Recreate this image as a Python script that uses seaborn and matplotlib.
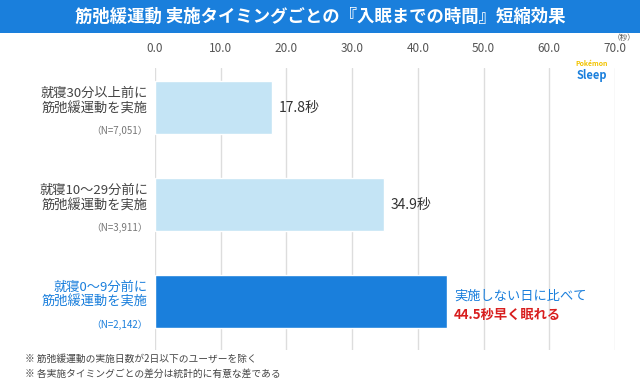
import pandas as pd
import seaborn as sns
import matplotlib.pyplot as plt
from matplotlib.transforms import blended_transform_factory

# data
categories = ["30+", "10-29", "0-9"]
label_lines = [
    ["就寝30分以上前に", "筋弛緩運動を実施"],
    ["就寝10～29分前に", "筋弛緩運動を実施"],
    ["就寝0～9分前に", "筋弛緩運動を実施"],
]
sample_sizes = ["（N=7,051）", "（N=3,911）", "（N=2,142）"]
seconds = [17.8, 34.9, 44.5]
x_ticks = [0, 10, 20, 30, 40, 50, 60, 70]

BLUE = "#1a7fdc"
LIGHT = "#c4e4f5"
RED = "#d81e1e"

sns.set_theme(style="white")
plt.rcParams['font.family'] = ['Noto Sans CJK JP', 'DejaVu Sans']

df = pd.DataFrame({"cat": categories, "sec": seconds})

fig = plt.figure(figsize=(6.4, 3.91), dpi=100)
fig.patch.set_facecolor("white")

# header band
fig.patches.append(plt.Rectangle((0, 1 - 33 / 391), 1, 33 / 391, transform=fig.transFigure,
                                 facecolor=BLUE, edgecolor="none", zorder=0))
fig.text(0.5, 1 - 17 / 391, "筋弛緩運動 実施タイミングごとの『入眠までの時間』短縮効果",
         ha="center", va="center", color="white", fontsize=12.5, fontweight="bold")

ax = fig.add_axes([155 / 640, 1 - 350 / 391, 460 / 640, 282 / 391])
sns.barplot(data=df, x="sec", y="cat", hue="cat", palette=[LIGHT, LIGHT, BLUE],
            orient="h", width=0.55, saturation=1, legend=False, ax=ax, zorder=3)

ax.set_xlim(0, 70)
ax.set_ylim(2.5, -0.41)
ax.set_xticks(x_ticks)
ax.set_xticklabels([f"{t:.1f}" for t in x_ticks], color="#555555", fontsize=8.5)
ax.xaxis.tick_top()
ax.tick_params(axis="x", length=0, pad=9)
ax.set_yticks([])
ax.set_xlabel("")
ax.set_ylabel("")
for s in ax.spines.values():
    s.set_visible(False)
ax.grid(axis="x", color="#dddddd", linewidth=1, zorder=0)
ax.set_axisbelow(True)

fig.text(624 / 640, 1 - 38 / 391, "（秒）", fontsize=5.5, color="#555555",
         ha="center", va="center")

# category labels
tr = blended_transform_factory(fig.transFigure, ax.transData)
for i, lines in enumerate(label_lines):
    col = BLUE if i == 2 else "#444444"
    ax.text(148 / 640, i - 0.07, lines[0] + "\n" + lines[1], transform=tr, ha="right",
            va="center", fontsize=9.5, color=col, linespacing=1.25)
    ax.text(148 / 640, i + 0.24, sample_sizes[i], transform=tr, ha="right", va="center",
            fontsize=7, color=BLUE if i == 2 else "#777777")

# value labels
for i, v in enumerate(seconds[:2]):
    ax.text(v + 1.0, i, f"{v}秒", va="center", ha="left", fontsize=10, color="#333333")
ax.text(seconds[2] + 1.0, 1.94, "実施しない日に比べて", va="center", ha="left",
        fontsize=9.5, color=BLUE)
ax.text(seconds[2] + 1.0, 2.14, f"{seconds[2]}秒早く眠れる", va="center", ha="left",
        fontsize=9.5, color=RED, fontweight="bold")

# logo stand-in
fig.text(592 / 640, 1 - 63 / 391, "Pokémon", ha="center", va="center", fontsize=5,
         color="#f2c300", fontweight="bold")
fig.text(592 / 640, 1 - 75 / 391, "Sleep", ha="center", va="center", fontsize=8,
         color=BLUE, fontweight="bold")

# footnotes
fig.text(25 / 640, 1 - 359 / 391, "※ 筋弛緩運動の実施日数が2日以下のユーザーを除く",
         fontsize=7, color="#444444", va="center")
fig.text(25 / 640, 1 - 374 / 391, "※ 各実施タイミングごとの差分は統計的に有意な差である",
         fontsize=7, color="#444444", va="center")

fig.savefig("out.png", dpi=100)
